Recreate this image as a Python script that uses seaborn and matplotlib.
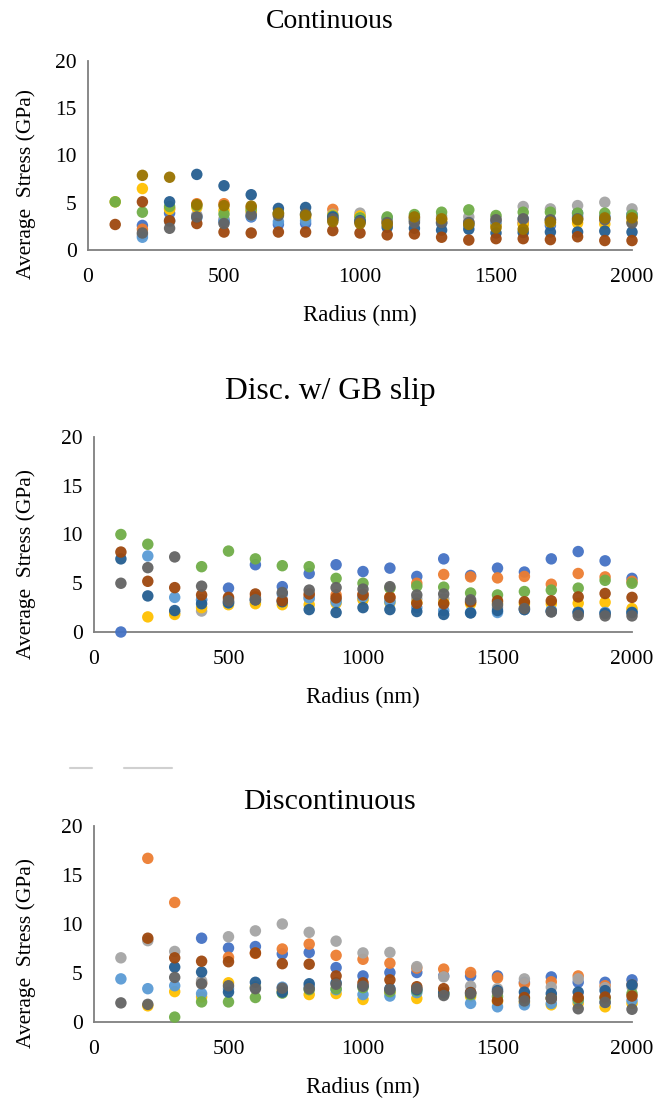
import numpy as np
import pandas as pd
import matplotlib
matplotlib.use("Agg")
import matplotlib.pyplot as plt
from matplotlib.lines import Line2D
import seaborn as sns

nan = np.nan

# Radii sampled in every simulation set (nm)
RADIUS = [100, 200, 300, 400, 500, 600, 700, 800, 900, 1000,
          1100, 1200, 1300, 1400, 1500, 1600, 1700, 1800, 1900, 2000]

SERIES = ["S1", "S2", "S3", "S4", "S5", "S6", "S7", "S8", "S9", "S10"]
COLORS = ["#4472C4", "#ED7D31", "#A5A5A5", "#FFC000", "#5B9BD5",
          "#70AD47", "#255E91", "#9E480E", "#636363", "#997300"]

TITLES = ["Continuous", "Disc. w/ GB slip", "Discontinuous"]
TITLE_SIZES = [20, 22.8, 21.5]

# Average stress (GPa) per series, continuous boundaries
CONTINUOUS = {
    "S1":  [nan, 2.6, 3.9, 3.6, 3.1, 3.5, 2.7, 2.8, 3.2, 3.0, 3.0, 3.1, 2.9, 2.6, 2.7, 2.8, 2.6, 3.9, 3.5, 3.8],
    "S2":  [nan, 2.2, 4.4, 4.9, 4.9, 4.5, 3.8, 3.7, 4.3, 3.6, 3.2, 3.4, 3.3, 3.0, 3.1, 3.0, 3.2, 3.4, 3.3, 3.5],
    "S3":  [nan, 1.6, 3.0, 3.7, 3.3, 4.0, 3.9, 3.8, 3.8, 3.9, 3.3, 3.5, 3.6, 3.5, 3.4, 4.6, 4.35, 4.7, 5.05, 4.35],
    "S4":  [5.1, 6.5, 4.3, 4.5, 4.2, 4.1, 3.7, 3.4, 3.7, 3.6, 3.0, 3.2, 3.1, 2.8, 2.6, 2.7, 2.9, 2.85, 2.75, 3.0],
    "S5":  [nan, 1.35, 3.1, 3.4, 3.0, 3.6, 3.0, 3.1, 3.3, 3.0, 3.4, 3.3, 2.8, 2.9, 3.0, 3.3, 3.2, 3.6, 3.5, 3.6],
    "S6":  [5.1, 4.0, 4.6, 4.7, 3.8, 4.3, 3.9, 3.8, 3.6, 3.4, 3.5, 3.75, 4.0, 4.25, 3.65, 4.0, 4.0, 3.9, 3.9, 3.7],
    "S7":  [nan, nan, 5.1, 8.0, 6.8, 5.85, 4.4, 4.5, 3.5, 3.1, 2.4, 2.3, 2.1, 2.2, 1.8, 1.85, 1.9, 1.9, 2.0, 1.9],
    "S8":  [2.7, 5.1, 3.1, 2.8, 1.9, 1.8, 1.9, 1.9, 2.05, 1.8, 1.6, 1.7, 1.35, 1.05, 1.2, 1.2, 1.1, 1.4, 1.0, 1.0],
    "S9":  [nan, 1.8, 2.3, 3.5, 2.8, 3.7, 3.65, 3.8, 3.3, 3.0, 2.9, 2.9, 2.9, 2.9, 3.2, 3.3, 3.2, 3.3, 3.2, 2.85],
    "S10": [nan, 7.9, 7.7, 4.8, 4.7, 4.65, 3.9, 3.65, 3.0, 2.8, 2.7, 3.5, 3.3, 2.7, 2.35, 2.2, 2.95, 3.2, 3.4, 3.4],
}

# Discontinuous boundaries with grain-boundary slip
GB_SLIP = {
    "S1":  [0.0, nan, nan, 3.3, 4.5, 6.9, 4.65, 6.0, 6.9, 6.2, 6.55, 5.7, 7.5, 5.8, 6.55, 6.15, 7.5, 8.25, 7.3, 5.5],
    "S2":  [nan, nan, nan, nan, 3.4, 3.6, 3.3, 3.7, 3.8, 3.9, 3.6, 5.0, 5.9, 5.65, 5.55, 5.7, 4.9, 6.0, 5.65, 5.2],
    "S3":  [nan, nan, 2.0, 2.15, 3.1, 3.1, 3.2, 3.4, 3.3, 3.4, 3.3, 3.4, 3.4, 3.1, 2.5, 2.5, 2.2, 2.1, 2.0, 2.2],
    "S4":  [nan, 1.55, 1.8, 2.5, 2.8, 2.9, 2.8, 2.8, 2.95, 3.3, 3.0, 3.0, 3.0, 2.9, 3.0, 2.9, 2.9, 2.95, 3.05, 2.4],
    "S5":  [nan, 7.8, 3.55, 3.3, 3.0, 3.4, 3.9, 3.5, 3.1, 3.6, 3.1, 2.5, 2.2, 2.0, 2.0, 2.3, 2.2, 2.0, 2.0, 2.0],
    "S6":  [10.0, 9.0, nan, 6.7, 8.3, 7.5, 6.8, 6.7, 5.5, 5.0, 4.5, 4.7, 4.6, 4.0, 3.8, 4.15, 4.3, 4.5, 5.3, 5.0],
    "S7":  [7.5, 3.7, 2.2, 2.9, 3.0, 3.3, 3.1, 2.3, 2.0, 2.5, 2.3, 2.1, 1.8, 1.95, 2.2, 2.3, 2.1, 2.0, 1.9, 2.0],
    "S8":  [8.2, 5.2, 4.55, 3.8, 3.55, 3.9, 3.2, 3.9, 3.5, 3.8, 3.55, 2.95, 2.9, 3.1, 3.2, 3.1, 3.2, 3.6, 3.95, 3.55],
    "S9":  [5.0, 6.6, 7.7, 4.7, 3.2, 3.3, 4.05, 4.3, 4.55, 4.4, 4.65, 3.8, 3.9, 3.3, 2.8, 2.4, 2.05, 1.7, 1.65, 1.65],
}

# Discontinuous boundaries
DISCONTINUOUS = {
    "S1":  [nan, nan, nan, 8.55, 7.55, 7.7, 6.95, 7.1, 5.55, 4.7, 5.05, 5.05, 4.7, 4.7, 4.7, 4.05, 4.6, 4.05, 4.05, 4.3],
    "S2":  [nan, 16.7, 12.2, 4.0, 6.6, 7.0, 7.45, 7.95, 6.8, 6.4, 6.0, 5.5, 5.4, 5.05, 4.5, 3.9, 4.1, 4.7, 3.7, 3.8],
    "S3":  [6.55, 8.3, 7.2, 4.2, 8.7, 9.3, 10.0, 9.15, 8.25, 7.05, 7.1, 5.65, 4.6, 3.65, 3.4, 4.4, 3.55, 4.4, 3.5, 3.6],
    "S4":  [nan, 1.65, 3.1, 2.55, 4.0, 3.6, 3.2, 2.8, 2.9, 2.3, 3.0, 2.4, 2.9, 2.6, 2.1, 2.0, 1.75, 1.9, 1.55, 1.9],
    "S5":  [4.4, 3.4, 3.7, 2.9, 3.4, 3.5, 3.55, 3.6, 3.3, 2.8, 2.65, 3.0, 2.8, 1.9, 1.55, 1.75, 1.9, 2.2, 2.0, 2.2],
    "S6":  [nan, nan, 0.5, 2.05, 2.05, 2.5, 2.95, 3.3, 3.4, 3.5, 3.1, 3.2, 2.9, 2.8, 2.6, 2.4, 2.5, 2.3, 2.4, 2.9],
    "S7":  [nan, nan, 5.6, 5.1, 3.05, 4.05, 3.05, 3.9, 4.0, 3.7, 3.4, 3.3, 3.0, 3.0, 3.2, 3.05, 2.9, 3.05, 3.2, 3.8],
    "S8":  [nan, 8.55, 6.55, 6.2, 6.15, 7.05, 5.95, 5.9, 4.7, 4.0, 4.3, 3.6, 3.4, 3.0, 2.2, 2.5, 2.4, 2.5, 2.55, 2.65],
    "S9":  [1.95, 1.8, 4.55, 3.9, 3.7, 3.4, 3.45, 3.4, 3.85, 3.65, 3.3, 3.4, 2.7, 2.9, 3.05, 2.15, 2.4, 1.35, 2.0, 1.3],
}

X_TICKS = [0, 500, 1000, 1500, 2000]
Y_TICKS = [0, 5, 10, 15, 20]


def long_frame(table):
    rows = []
    for name in SERIES:
        if name not in table:
            continue
        for r, v in zip(RADIUS, table[name]):
            if not np.isnan(v):
                rows.append((name, r, v))
    return pd.DataFrame(rows, columns=["series", "radius", "stress"])


sns.set_theme(style="white")
plt.rcParams["font.family"] = ["Liberation Serif", "DejaVu Serif"]

W, H = 660, 1105
fig = plt.figure(figsize=(W / 100, H / 100), dpi=100)

# axes boxes in pixels: left, top, right, bottom
boxes = [(88, 61, 632, 250), (94, 437, 632, 632), (94, 826, 632, 1022)]
title_y = [21, 391, 802]
tables = [CONTINUOUS, GB_SLIP, DISCONTINUOUS]
palette = dict(zip(SERIES, COLORS))

for (l, t, r, b), ty, title, tsize, table in zip(boxes, title_y, TITLES,
                                                  TITLE_SIZES, tables):
    ax = fig.add_axes([l / W, 1 - b / H, (r - l) / W, (b - t) / H])
    df = long_frame(table)
    sns.scatterplot(data=df, x="radius", y="stress", hue="series",
                    palette=palette, s=68, linewidth=0, alpha=0.95,
                    legend=False, ax=ax, clip_on=False, zorder=3)
    ax.set_xlim(0, 2000)
    ax.set_ylim(0, 20)
    ax.set_xticks(X_TICKS)
    ax.set_yticks(Y_TICKS)
    ax.tick_params(length=0, labelsize=15.5, colors="black", pad=13)
    ax.tick_params(axis="y", pad=8)
    for side in ("top", "right"):
        ax.spines[side].set_visible(False)
    for side in ("left", "bottom"):
        ax.spines[side].set_color("#7f7f7f")
        ax.spines[side].set_linewidth(1.3)
    ax.set_xlabel("Radius (nm)", fontsize=16.5, color="black", labelpad=13)
    ax.set_ylabel("Average  Stress (GPa)", fontsize=15.5, color="black")
    ax.yaxis.set_label_coords((36 - l) / (r - l), 0.35)
    fig.text(0.5, 1 - ty / H, title, ha="center", va="center",
             fontsize=tsize, color="black")

# faint separator strokes between the second and third panels
for x0, x1 in [(70, 92), (124, 172)]:
    fig.add_artist(Line2D([x0 / W, x1 / W], [1 - 768 / H, 1 - 768 / H],
                          color="#d0d0d0", linewidth=1.5))

fig.savefig("out.png", dpi=100)
